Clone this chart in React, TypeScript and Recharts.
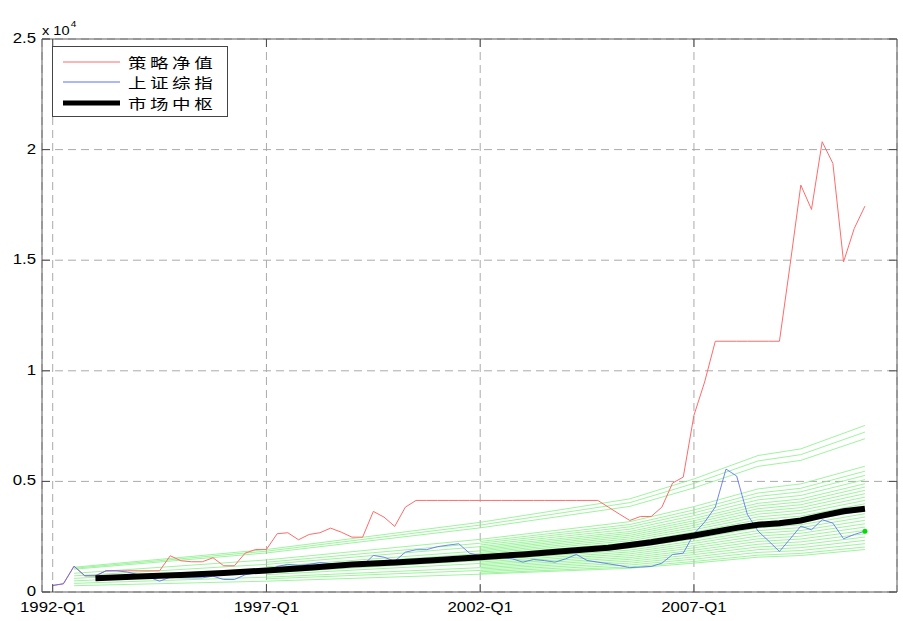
import React from 'react';
import { LineChart, Line, XAxis, YAxis, CartesianGrid, Legend } from 'recharts';

// quarter index 0 = 1992-Q1 ... 76 = 2011-Q1
const quarters: number[] = Array.from({ length: 77 }, (_, i) => i);

const xTickValues = [0, 20, 40, 60];
const xTickLabels = ['1992-Q1', '1997-Q1', '2002-Q1', '2007-Q1'];
const yTickValues = [0, 5000, 10000, 15000, 20000, 25000];
const yTickLabels = ['0', '0.5', '1', '1.5', '2', '2.5'];

const legendLabels = ['策略净值', '上证综指', '市场中枢'];

// 策略净值 (red)
const strategyNav = [
  294, 371, 1167, 733, 733, 959, 959, 959, 959, 959,
  959, 1638, 1412, 1367, 1367, 1548, 1186, 1186, 1756, 1923,
  1923, 2634, 2679, 2362, 2602, 2679, 2887, 2706, 2480, 2480,
  3643, 3385, 2964, 3837, 4140, 4140, 4140, 4140, 4140, 4140,
  4140, 4140, 4140, 4140, 4140, 4140, 4140, 4140, 4140, 4140,
  4140, 4140, 3837, 3530, 3235, 3415, 3415, 3837, 4925, 5195,
  7987, 9494, 11336, 11336, 11336, 11336, 11336, 11336, 11336, 14800,
  18395, 17295, 20355, 19376, 14925, 16435, 17444,
];

// 上证综指 (blue)
const shIndex = [
  294, 371, 1167, 733, 733, 959, 959, 900, 780, 670,
  489, 670, 640, 640, 640, 715, 565, 565, 778, 868,
  896, 1154, 1250, 1200, 1250, 1330, 1280, 1250, 1200, 1200,
  1652, 1575, 1394, 1801, 1910, 1915, 2050, 2120, 2180, 1756,
  1638, 1650, 1560, 1500, 1350, 1470, 1420, 1350, 1500, 1697,
  1425, 1350, 1276, 1200, 1100, 1130, 1154, 1303, 1697, 1756,
  2634, 3160, 3840, 5557, 5240, 3507, 2751, 2300, 1833, 2400,
  2978, 2814, 3267, 3113, 2407, 2600, 2751,
];

// 市场中枢 (black)
const centerIdx = [4, 8, 12, 16, 20, 24, 28, 32, 36, 40, 44, 48, 52, 56, 60, 64, 66, 68, 70, 72, 74, 76];
const centerVals = [620, 700, 770, 860, 973, 1100, 1240, 1330, 1450, 1575, 1700, 1850, 2000, 2250, 2557, 2900, 3040, 3110, 3235, 3450, 3650, 3765];

// green band lines (values at knot quarters; null = line not yet started)
const greenKnotIdx = [2, 20, 40, 54, 60, 66, 70, 76];
const greenLines: (number | null)[][] = [
  [1120, 1920, 3150, 4210, 5110, 6170, 6470, 7530],
  [1075, 1845, 3025, 4040, 4910, 5925, 6210, 7230],
  [1030, 1765, 2900, 3870, 4705, 5680, 5950, 6930],
  [845, 1450, 2380, 3180, 3860, 4660, 4885, 5685],
  [null, null, 2285, 3050, 3710, 4475, 4690, 5460],
  [null, 1345, 2205, 2945, 3580, 4320, 4530, 5270],
  [null, null, 2125, 2840, 3450, 4165, 4365, 5080],
  [730, 1250, 2050, 2735, 3325, 4010, 4205, 4895],
  [null, null, 1985, 2650, 3220, 3890, 4075, 4745],
  [null, null, 1920, 2565, 3120, 3765, 3945, 4595],
  [null, 1135, 1860, 2485, 3015, 3640, 3815, 4445],
  [null, null, 1795, 2400, 2915, 3520, 3690, 4290],
  [615, 1055, 1735, 2315, 2815, 3395, 3560, 4140],
  [null, null, 1670, 2230, 2710, 3270, 3430, 3990],
  [null, 980, 1605, 2145, 2610, 3150, 3300, 3840],
  [null, null, 1545, 2060, 2505, 3025, 3170, 3690],
  [null, null, 1480, 1980, 2405, 2900, 3040, 3540],
  [505, 865, 1420, 1895, 2300, 2775, 2910, 3390],
  [null, null, 1355, 1810, 2200, 2655, 2780, 3240],
  [null, 785, 1290, 1725, 2095, 2530, 2655, 3085],
  [null, null, 1230, 1640, 1995, 2405, 2525, 2935],
  [null, null, 1165, 1555, 1890, 2285, 2395, 2785],
  [390, 670, 1100, 1475, 1790, 2160, 2265, 2635],
  [null, null, 1040, 1390, 1690, 2035, 2135, 2485],
  [null, 595, 975, 1305, 1585, 1915, 2005, 2335],
  [null, null, 915, 1220, 1485, 1790, 1875, 2185],
  [null, null, 850, 1135, 1380, 1665, 1745, 2035],
  [285, 490, 805, 1075, 1305, 1575, 1650, 1920],
];

const greenDotIdx = 76;
const greenDotVal = 2751;

const rows: any[] = quarters.map((i) => ({ i, red: strategyNav[i], blue: shIndex[i] }));
centerIdx.forEach((q, k) => { rows[q].center = centerVals[k]; });
greenLines.forEach((line, j) => {
  greenKnotIdx.forEach((q, k) => {
    if (line[k] !== null) rows[q]['g' + j] = line[k];
  });
});
rows[greenDotIdx].dot = greenDotVal;

const FONT = '"Liberation Sans", Arial, Helvetica, sans-serif';
const TICK_COLOR = '#4a4a4a';
const AXIS_COLOR = '#5a5a5a';

const YTickLeft = (props: any) => {
  const { x, y, payload } = props;
  const idx = yTickValues.indexOf(payload.value);
  return (
    <g>
      <line x1={x + 6} x2={x + 14} y1={y} y2={y} stroke={TICK_COLOR} />
      <text
        transform={`translate(${x},${y - 1}) scale(1.2,1)`}
        textAnchor="end"
        dy="0.355em"
        fontSize={14}
        fontFamily={FONT}
        fill="#000"
      >
        {yTickLabels[idx]}
      </text>
    </g>
  );
};

const YTickRight = (props: any) => {
  const { x, y } = props;
  return <line x1={x} x2={x - 8} y1={y} y2={y} stroke={TICK_COLOR} />;
};

const XTickBottom = (props: any) => {
  const { x, y, payload } = props;
  const idx = xTickValues.indexOf(payload.value);
  return (
    <g>
      <line x1={x} x2={x} y1={y - 10} y2={y - 18} stroke={TICK_COLOR} />
      <text
        transform={`translate(${x},${y}) scale(1.2,1)`}
        textAnchor="middle"
        dy="0.71em"
        fontSize={14}
        fontFamily={FONT}
        fill="#000"
      >
        {xTickLabels[idx]}
      </text>
    </g>
  );
};

const XTickTop = (props: any) => {
  const { x, y } = props;
  return <line x1={x} x2={x} y1={y} y2={y + 8} stroke={TICK_COLOR} />;
};

const legendStyles = [
  { stroke: '#ff6b6b', width: 1 },
  { stroke: '#5b6ff5', width: 1 },
  { stroke: '#000', width: 5 },
];

const LegendBox = () => (
  <div
    style={{
      position: 'relative',
      width: 176,
      height: 71,
      boxSizing: 'border-box',
      border: '1px solid #444',
      background: '#fff',
    }}
  >
    {legendLabels.map((label, k) => (
      <div
        key={label}
        style={{ position: 'absolute', left: 0, top: 14.7 + 20.5 * k - 10, height: 20, width: 174 }}
      >
        <svg width={70} height={20} style={{ position: 'absolute', left: 0, top: 0 }}>
          <line
            x1={10}
            x2={67}
            y1={10}
            y2={10}
            stroke={legendStyles[k].stroke}
            strokeWidth={legendStyles[k].width}
          />
        </svg>
        <span
          style={{
            position: 'absolute',
            left: 75,
            top: 0,
            lineHeight: '20px',
            fontSize: 14,
            fontFamily: '"Noto Sans CJK SC", sans-serif',
            letterSpacing: 2.7,
            transform: 'scaleX(1.32)',
            transformOrigin: 'left center',
            whiteSpace: 'nowrap',
            color: '#000',
          }}
        >
          {label}
        </span>
      </div>
    ))}
  </div>
);

export default function App() {
  return (
    <div style={{ position: 'absolute', left: 0, top: 0, width: 903, height: 621, background: '#fff' }}>
      <LineChart
        width={903}
        height={621}
        data={rows}
        margin={{ top: 38, right: 5, bottom: 28, left: 41 }}
      >
        <CartesianGrid stroke="#aaaaaa" strokeDasharray="8 5" />
        <XAxis
          dataKey="i"
          type="number"
          domain={[-1, 79]}
          ticks={xTickValues}
          interval={0}
          height={1}
          tickSize={0}
          tickMargin={10}
          axisLine={{ stroke: AXIS_COLOR }}
          tick={<XTickBottom />}
          allowDataOverflow
        />
        <XAxis
          xAxisId="top"
          orientation="top"
          dataKey="i"
          type="number"
          domain={[-1, 79]}
          ticks={xTickValues}
          interval={0}
          height={1}
          tickSize={0}
          tickMargin={0}
          axisLine={{ stroke: AXIS_COLOR }}
          tick={<XTickTop />}
          allowDataOverflow
        />
        <YAxis
          type="number"
          domain={[0, 25000]}
          ticks={yTickValues}
          interval={0}
          width={1}
          tickSize={0}
          tickMargin={6}
          axisLine={{ stroke: AXIS_COLOR }}
          tick={<YTickLeft />}
          allowDataOverflow
        />
        <YAxis
          yAxisId="right"
          orientation="right"
          type="number"
          domain={[0, 25000]}
          ticks={yTickValues}
          interval={0}
          width={1}
          tickSize={0}
          tickMargin={0}
          axisLine={{ stroke: AXIS_COLOR }}
          tick={<YTickRight />}
          allowDataOverflow
        />
        {greenLines.map((_, j) => (
          <Line
            key={'g' + j}
            dataKey={'g' + j}
            stroke="#86f086"
            strokeWidth={0.8}
            dot={false}
            activeDot={false}
            connectNulls
            isAnimationActive={false}
            legendType="none"
          />
        ))}
        <Line dataKey="red" stroke="#ff6b6b" strokeWidth={1} dot={false} activeDot={false} isAnimationActive={false} />
        <Line dataKey="blue" stroke="#5b6ff5" strokeWidth={1} strokeOpacity={0.85} dot={false} activeDot={false} isAnimationActive={false} />
        <Line dataKey="center" stroke="#000" strokeWidth={6} dot={false} activeDot={false} connectNulls isAnimationActive={false} />
        <Line
          dataKey="dot"
          stroke="none"
          dot={{ r: 2.5, fill: '#00dd00', stroke: 'none' }}
          activeDot={false}
          isAnimationActive={false}
          legendType="none"
        />
        <Legend
          layout="horizontal"
          verticalAlign="middle"
          align="center"
          wrapperStyle={{ left: 52, top: 46, width: 176, height: 71 }}
          content={() => <LegendBox />}
        />
      </LineChart>
      <div
        style={{
          position: 'absolute',
          left: 42,
          top: 24,
          fontFamily: FONT,
          fontSize: 13,
          lineHeight: '13px',
          transform: 'scaleX(1.12)',
          transformOrigin: 'left top',
          whiteSpace: 'nowrap',
          color: '#000',
        }}
      >
        x 10<span style={{ position: 'relative', top: -8, fontSize: 9, marginLeft: 1 }}>4</span>
      </div>
    </div>
  );
}
